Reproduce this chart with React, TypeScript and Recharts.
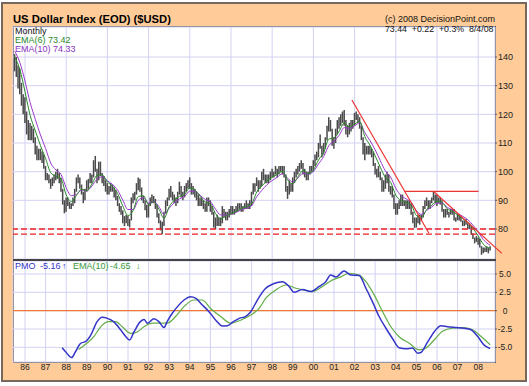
import React from 'react';
import { ComposedChart, Bar, Line, XAxis, YAxis, CartesianGrid, ReferenceLine } from 'recharts';

const FONT = '"Liberation Sans", Arial, Helvetica, sans-serif';
const GRID = '#d2d2f4';

// US Dollar Index monthly bars, Jul 1985 .. Aug 2008 (one line per year)
const firstBar = 1985.5;
const barHigh = [
  141, 140, 137, 136, 131, 127,
  126, 121, 118, 117, 116, 115, 112, 109, 108, 108, 107, 106,
  102, 99.5, 99, 97.5, 98, 99, 100, 101, 99.5, 98, 94, 90,
  91, 91, 89.5, 89, 91, 94, 98, 99, 98, 95.5, 93, 94,
  97, 97.5, 99.5, 99, 104, 105.5, 101, 103.5, 103.5, 99.5, 98.5, 97,
  96, 95, 96, 95.5, 94.5, 93.5, 91.5, 89, 88, 86.5, 84.5, 85,
  84.5, 83.5, 91, 92.5, 93, 96, 98, 97.5, 94.5, 91.5, 90, 88.5,
  89, 91, 92, 91.5, 90.5, 88.5, 85.5, 83, 82.5, 86, 90, 91,
  94, 95, 93, 92, 91, 93, 96.5, 95, 93, 95, 96, 97,
  98, 96, 95, 94, 93, 92, 91, 91, 90, 89, 91, 91,
  90, 88, 86, 84, 85, 84, 84, 88, 87, 86, 86, 87,
  88, 88, 87, 88, 89, 89, 89, 88, 89, 90, 89, 90,
  93, 96, 96, 98, 97, 97, 100, 101, 99, 99, 99, 100,
  101, 100, 102, 101, 102, 102, 102, 102, 99, 95, 97, 96,
  98, 100, 101, 102, 103, 104, 103, 101, 100, 100, 102, 102,
  104, 106, 107, 110, 113, 109, 110, 112, 116, 119, 118, 115,
  112, 115, 118, 119, 120, 121, 121.5, 118, 116, 117, 118, 118,
  120.5, 121, 120, 119, 116, 112, 110, 109, 109, 109, 108, 107,
  103, 101, 102, 100, 98, 97, 99, 100, 99, 95, 95, 92,
  89, 89, 90, 92, 92, 90, 90, 90, 90, 89, 86, 84,
  84, 85, 85, 85, 88, 90, 91, 90, 90, 91, 93, 92,
  92, 91, 91, 90, 87, 87, 87, 86, 87, 87, 87, 84,
  85.5, 85, 84.5, 83, 83, 83.5, 82, 82, 81, 78.5, 77, 77.5,
  77, 76.5, 74, 73.5, 73.5, 74, 73.5, 74,
];
const barLow = [
  135, 133, 129, 127, 123, 120,
  117, 113, 111, 111, 111, 110, 106, 104, 104, 104, 103, 101,
  97, 97, 96, 94, 95, 96, 97, 97.5, 96, 93, 88.5, 85.5,
  86, 88, 87, 87, 88, 89, 93, 96, 94, 92, 89, 90,
  93, 94, 96, 96, 98, 100, 96, 97, 98.5, 96, 95, 93,
  92, 92, 93, 93, 91, 90, 88, 86, 85, 82, 81, 82,
  81, 80.5, 83, 89, 90, 92, 93.5, 93, 90, 89, 86.5, 84,
  84, 88, 89, 89, 87, 84, 82, 79.5, 78.2, 81, 85.5, 88,
  90, 91, 90, 89, 88, 89, 92, 91, 90, 91, 93, 94,
  94, 92, 92, 91, 90, 88, 88, 88, 87, 86, 86, 88,
  86, 85, 80.5, 80, 81, 81, 81, 82, 84, 83, 83, 84,
  85, 85, 85, 86, 86, 87, 86, 86, 87, 87, 87, 87,
  88, 92, 93, 95, 93, 94, 95, 97, 96, 96, 96, 97,
  98, 98, 99, 98, 99, 100, 99, 98, 93, 90.5, 92, 93,
  93, 96, 98, 99, 100, 101, 99, 98, 97, 97, 99, 100,
  100, 102, 104, 105, 108, 105, 106, 108, 111, 114, 114, 109,
  108, 110, 113, 115, 116, 117, 116, 113, 112, 113, 114, 115,
  116, 118, 117, 115, 111, 106, 104, 106, 106, 106, 105, 102,
  99, 98, 98, 97, 93, 93, 94, 96, 93, 92, 91, 87,
  85, 85, 87, 88, 88, 88, 87, 87, 87, 85, 82, 80.4,
  80.5, 82, 81.5, 83, 84, 87, 88, 87, 87, 89, 90, 89,
  88, 89, 88.5, 86, 84, 84, 85, 84, 85, 85, 83, 82.5,
  83, 83, 82.5, 81, 81, 81.5, 80, 80, 78, 76.5, 75, 75.5,
  74.5, 73.5, 71, 71.5, 72, 72, 71.5, 72.5,
];

// moving averages read every quarter (Jul 1985 .. Jul 2008), then the last value
const emaStart = 1985.5;
const ema6 = [
  140, 135.6,
  127.9, 119.6, 114.3, 109.1,
  104.6, 99.6, 98.4, 97.5,
  91.9, 89.6, 91.7, 93.9,
  93.4, 95.7, 98.7, 98.9,
  96.4, 94.9, 92.3, 88.0,
  84.7, 86.4, 91.3, 91.6,
  88.5, 89.5, 86.9, 83.7,
  87.8, 90.1, 91.4, 92.1,
  94.3, 93.6, 91.4, 89.4,
  88.9, 85.4, 83.6, 84.5,
  85.3, 86.1, 87.1, 87.7,
  88.7, 92.9, 95.0, 96.8,
  98.0, 99.1, 100.1, 97.1,
  95.8, 98.2, 100.4, 99.3,
  100.6, 104.1, 106.7, 111.4,
  111.8, 114.1, 117.0, 115.6,
  116.6, 117.5, 112.2, 109.2,
  105.5, 101.5, 97.9, 96.3,
  91.8, 89.9, 89.3, 88.4,
  84.7, 84.0, 86.8, 88.3,
  89.7, 89.3, 87.0, 86.2,
  84.9, 83.6, 82.4, 80.2,
  77.6, 74.7, 73.4,
];
const ema10 = [
  142, 138.1,
  131.6, 124.1, 118.3, 112.8,
  108.1, 103.0, 100.6, 99.0,
  94.4, 91.6, 92.1, 93.6,
  93.3, 95.0, 97.4, 98.2,
  96.8, 95.5, 93.5, 90.0,
  86.8, 86.8, 90.0, 90.9,
  89.0, 89.5, 87.8, 85.0,
  87.3, 89.2, 90.5, 91.4,
  93.2, 93.2, 91.8, 90.3,
  89.5, 86.9, 84.9, 84.9,
  85.3, 85.8, 86.7, 87.2,
  88.1, 91.3, 93.5, 95.5,
  96.9, 98.1, 99.3, 97.7,
  96.4, 97.8, 99.5, 99.2,
  100.1, 102.7, 105.3, 109.1,
  110.6, 112.7, 115.4, 115.1,
  116.0, 117.0, 113.6, 110.8,
  107.6, 103.8, 100.2, 98.1,
  94.2, 91.7, 90.5, 89.3,
  86.4, 85.1, 86.5, 87.7,
  89.0, 89.0, 87.5, 86.7,
  85.5, 84.4, 83.2, 81.3,
  78.9, 76.3, 74.7,
];
const lastBar = 2008 + 7 / 12;
const ema6Last = 73.42;
const ema10Last = 74.33;

// PMO and its EMA(10): [date, value]
const pmo: [number, number][] = [
  [1987.8, -5.05], [1987.97, -5.6], [1988.26, -6.4], [1988.45, -5.6], [1988.7, -4.45], [1988.95, -4.2],
  [1989.2, -3.3], [1989.5, -1.5], [1989.75, -0.9], [1990.0, -1.05], [1990.3, -1.5], [1990.64, -2.6],
  [1990.88, -3.5], [1991.08, -4.0], [1991.29, -2.9], [1991.6, -1.5], [1991.78, -1.2], [1991.94, -1.7],
  [1992.26, -1.1], [1992.5, -1.5], [1992.75, -2.3], [1992.9, -1.5], [1993.15, -0.36], [1993.4, 0.55],
  [1993.72, 1.45], [1994.04, 1.9], [1994.28, 1.7], [1994.6, 0.8], [1994.93, -0.14], [1995.26, -1.3],
  [1995.58, -2.1], [1995.83, -2.05], [1996.07, -1.6], [1996.4, -1.05], [1996.7, -0.8], [1996.96, -0.14],
  [1997.28, 1.45], [1997.65, 2.95], [1998.09, 3.7], [1998.5, 3.95], [1998.82, 3.3], [1999.06, 2.5],
  [1999.47, 2.9], [1999.87, 2.6], [2000.28, 3.3], [2000.6, 3.95], [2000.84, 4.85], [2001.09, 4.6],
  [2001.49, 5.4], [2001.82, 4.85], [2002.22, 4.8], [2002.55, 3.05], [2002.87, 1.2], [2003.19, -0.8],
  [2003.52, -2.4], [2003.84, -3.8], [2004.16, -5.05], [2004.49, -5.2], [2004.81, -5.1], [2005.06, -5.8],
  [2005.22, -5.7], [2005.54, -4.3], [2005.86, -2.9], [2006.19, -2.05], [2006.51, -2.2], [2006.92, -2.3],
  [2007.32, -2.4], [2007.65, -2.6], [2007.97, -3.5], [2008.29, -4.7], [2008.58, -5.16],
];
const pmoSignal: [number, number][] = [
  [1988.6, -5.3], [1989.0, -4.45], [1989.34, -3.55], [1989.67, -2.2], [1990.07, -1.5], [1990.4, -1.5],
  [1990.72, -2.2], [1991.13, -3.1], [1991.45, -2.9], [1991.77, -2.2], [1992.18, -1.7], [1992.58, -1.7],
  [1992.9, -1.7], [1993.31, -0.8], [1993.72, 0.55], [1994.2, 1.45], [1994.6, 1.45], [1995.01, 0.3],
  [1995.5, -0.8], [1995.99, -1.7], [1996.47, -1.3], [1996.96, -0.6], [1997.36, 0.3], [1997.69, 1.7],
  [1998.17, 2.8], [1998.66, 3.5], [1999.15, 3.05], [1999.55, 2.8], [1999.96, 2.6], [2000.44, 3.3],
  [2000.93, 4.2], [2001.33, 4.6], [2001.73, 5.1], [2002.22, 4.85], [2002.55, 3.95], [2002.95, 2.15],
  [2003.36, -0.14], [2003.76, -2.2], [2004.16, -3.55], [2004.65, -4.45], [2005.14, -5.35], [2005.46, -5.1],
  [2005.86, -4.0], [2006.27, -2.8], [2006.76, -2.4], [2007.24, -2.3], [2007.73, -2.6], [2008.13, -3.5],
  [2008.58, -4.65],
];

const yearTicks = [
  1986, 1987, 1988, 1989, 1990, 1991, 1992, 1993, 1994, 1995, 1996, 1997,
  1998, 1999, 2000, 2001, 2002, 2003, 2004, 2005, 2006, 2007, 2008,
];
const priceTicks = [80, 90, 100, 110, 120, 130, 140];
const pmoTicks = [-5, -2.5, 0, 2.5, 5];

// drawn support levels and trend lines (date, price)
const supportLevels = [80, 78.2];
const trendLines = [
  { x1: 2001.87, y1: 125, x2: 2005.61, y2: 78.5 },
  { x1: 2004.41, y1: 93.1, x2: 2008.02, y2: 93.1 },
  { x1: 2005.85, y1: 93.0, x2: 2009.15, y2: 71.5 },
];

const xDomain: [number, number] = [1985.417, 2008.816];

const priceRows = barHigh.map((h, i) => ({ t: firstBar + i / 12, range: [barLow[i], h] }));
const ema6Rows = ema6.map((v, i) => ({ t: emaStart + i * 0.25, v })).concat([{ t: lastBar, v: ema6Last }]);
const ema10Rows = ema10.map((v, i) => ({ t: emaStart + i * 0.25, v })).concat([{ t: lastBar, v: ema10Last }]);
const pmoRows = pmo.map(([t, v]) => ({ t, v }));
const signalRows = pmoSignal.map(([t, v]) => ({ t, v }));

function Txt({ left, top, right, size = 9, color = '#111', bold = false, children }: any) {
  return (
    <div
      style={{
        position: 'absolute', left, top, right, fontSize: size, lineHeight: `${size}px`,
        color, fontWeight: bold ? 700 : 400, whiteSpace: 'pre', fontFamily: FONT,
      }}
    >
      {children}
    </div>
  );
}

function PriceChart() {
  return (
    <ComposedChart width={529} height={261} data={priceRows} margin={{ top: 27, right: 4, bottom: 2, left: 13 }}>
      <CartesianGrid stroke={GRID} />
      <XAxis type="number" dataKey="t" domain={xDomain} ticks={yearTicks} allowDataOverflow hide />
      <YAxis
        orientation="right"
        type="number"
        domain={[69.53, 150.47]}
        ticks={priceTicks}
        allowDataOverflow
        interval={0}
        width={30}
        axisLine={false}
        tickSize={2}
        tickMargin={1}
        tickLine={{ stroke: '#555' }}
        tick={{ fontSize: 9, fill: '#222', fontFamily: FONT }}
      />
      {supportLevels.map((v) => (
        <ReferenceLine key={v} y={v} stroke="#ee2222" strokeWidth={1.3} strokeDasharray="6 3" />
      ))}
      <Bar dataKey="range" fill="#4a4a4a" barSize={1.5} isAnimationActive={false} />
      <Line data={ema10Rows} dataKey="v" type="monotone" stroke="#9a3acb" strokeWidth={1} dot={false} isAnimationActive={false} />
      <Line data={ema6Rows} dataKey="v" type="monotone" stroke="#2a8a2a" strokeWidth={1} dot={false} isAnimationActive={false} />
      {trendLines.map((l, i) => (
        <ReferenceLine
          key={i}
          segment={[{ x: l.x1, y: l.y1 }, { x: l.x2, y: l.y2 }]}
          stroke="#ee3333"
          strokeWidth={1.2}
          ifOverflow="visible"
        />
      ))}
    </ComposedChart>
  );
}

function PmoChart() {
  return (
    <ComposedChart width={529} height={125} data={pmoRows} margin={{ top: 0, right: 4, bottom: 0, left: 13 }}>
      <CartesianGrid stroke={GRID} />
      <XAxis
        type="number"
        dataKey="t"
        domain={xDomain}
        ticks={yearTicks}
        allowDataOverflow
        interval={0}
        height={24}
        axisLine={false}
        tickLine={false}
        tickSize={0}
        tickMargin={2}
        tickFormatter={(v: number) => String(v).slice(2)}
        tick={{ fontSize: 8.5, fill: '#222', fontFamily: FONT }}
      />
      <YAxis
        orientation="right"
        type="number"
        domain={[-7.0, 6.77]}
        ticks={pmoTicks}
        allowDataOverflow
        interval={0}
        width={30}
        axisLine={false}
        tickSize={2}
        tickMargin={1}
        tickLine={{ stroke: '#555' }}
        tickFormatter={(v: number) => (v === 0 ? '0' : v.toFixed(1))}
        tick={{ fontSize: 8.5, fill: '#222', fontFamily: FONT, textAnchor: 'middle', dx: 7 }}
      />
      <ReferenceLine y={0} stroke="#ee7733" strokeWidth={1.2} />
      <Line data={signalRows} dataKey="v" type="monotone" stroke="#62ad45" strokeWidth={1.2} dot={false} isAnimationActive={false} />
      <Line dataKey="v" type="monotone" stroke="#3535c8" strokeWidth={1.5} dot={false} isAnimationActive={false} />
    </ComposedChart>
  );
}

export default function App() {
  return (
    <div style={{ position: 'absolute', left: 0, top: 0, width: 529, height: 386, background: '#fff', fontFamily: FONT }}>
      <div
        style={{
          position: 'absolute', left: 1, top: 2, width: 526, height: 380, boxSizing: 'border-box',
          border: '2px solid #76695b', background: '#FFCC99',
        }}
      />
      <div
        style={{
          position: 'absolute', left: 13, top: 26, width: 483, height: 337, boxSizing: 'border-box',
          border: '1px solid #555', background: '#fff',
        }}
      />
      <div style={{ position: 'absolute', left: 0, top: 0 }}>
        <PriceChart />
      </div>
      <div style={{ position: 'absolute', left: 0, top: 261 }}>
        <PmoChart />
      </div>
      <div style={{ position: 'absolute', left: 13, top: 259, width: 483, height: 2, background: '#444' }} />

      <Txt left={13} top={13.5} size={11.2} bold color="#000">US Dollar Index (EOD) ($USD)</Txt>
      <Txt right={34} top={15} size={9} color="#111">(c) 2008 DecisionPoint.com</Txt>
      <Txt right={35.5} top={24.6} size={8.8} color="#111">{'73.44  +0.22  +0.3%  8/4/08'}</Txt>
      <Txt left={15} top={27.4} size={9} color="#111">Monthly</Txt>
      <Txt left={15} top={36.4} size={9} color="#2a8a2a">EMA(6) 73.42</Txt>
      <Txt left={15} top={45.4} size={9} color="#8a35c0">EMA(10) 74.33</Txt>

      <Txt left={15} top={262.4} size={9} color="#3535c8">PMO</Txt>
      <Txt left={40} top={262.4} size={9} color="#3535c8">-5.16</Txt>
      <Txt left={62} top={262.4} size={9} bold color="#3535c8">↑</Txt>
      <Txt left={73} top={262.4} size={9} color="#3a9a3a">EMA(10)</Txt>
      <Txt left={110} top={262.4} size={9} color="#3a9a3a">-4.65</Txt>
      <Txt left={136} top={262.4} size={9} bold color="#3a9a3a">↓</Txt>
    </div>
  );
}
